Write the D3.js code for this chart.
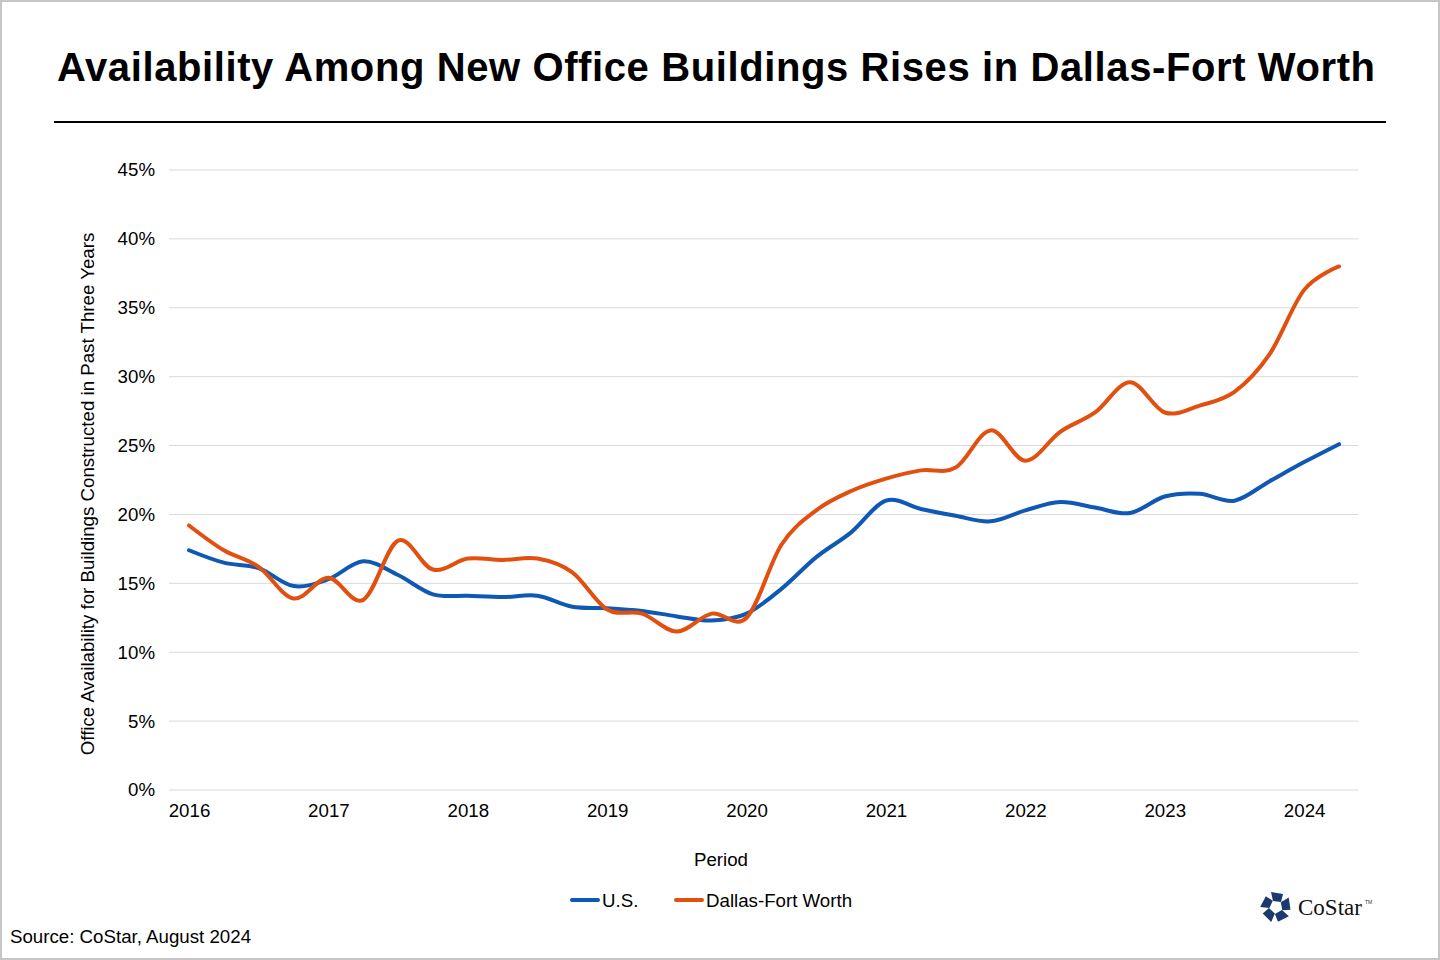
<!DOCTYPE html>
<html>
<head>
<meta charset="utf-8">
<script src="https://cdn.jsdelivr.net/npm/d3@7"></script>
<style>
  html, body { margin: 0; padding: 0; background: #fff; }
  svg { display: block; font-family: Arial, "Liberation Sans", sans-serif; }
</style>
</head>
<body>
<svg id="chart" width="1440" height="960"></svg>
<script>
// quarterly observations, 2016 Q1 .. 2024 Q2
const years = [2016, 2017, 2018, 2019, 2020, 2021, 2022, 2023, 2024]
const quarters = d3.range(34).map(i => 2016 + i / 4)
const usValues = [
  17.4, 16.5, 16.1, 14.8, 15.3, 16.6, 15.6, 14.2,
  14.1, 14.0, 14.1, 13.3, 13.2, 13.0, 12.6, 12.3,
  12.8, 14.6, 16.9, 18.7, 21.0, 20.4, 19.9, 19.5,
  20.3, 20.9, 20.5, 20.1, 21.3, 21.5, 21.0, 22.4,
  23.8, 25.1
]
const dfwValues = [
  19.2, 17.4, 16.2, 13.9, 15.4, 13.8, 18.1, 16.0,
  16.8, 16.7, 16.8, 15.8, 13.1, 12.8, 11.5, 12.8,
  12.5, 17.8, 20.3, 21.7, 22.6, 23.2, 23.4, 26.1,
  23.9, 26.0, 27.4, 29.6, 27.4, 27.9, 28.9, 31.6,
  36.3, 38.0
]
const yTicks = [0, 5, 10, 15, 20, 25, 30, 35, 40, 45]
const seriesNames = ['U.S.', 'Dallas-Fort Worth']
const seriesColors = ['#0f59b4', '#e2500f']

const fs = 18.7
const svg = d3.select('#chart')

// frame
svg.append('rect')
  .attr('x', 1).attr('y', 1).attr('width', 1438).attr('height', 958)
  .attr('fill', '#fff').attr('stroke', '#c6c6c6').attr('stroke-width', 2)

// title + rule
svg.append('text')
  .attr('x', 716).attr('y', 81)
  .attr('text-anchor', 'middle')
  .attr('font-size', 40).attr('font-weight', 'bold')
  .attr('textLength', 1318).attr('lengthAdjust', 'spacing')
  .text('Availability Among New Office Buildings Rises in Dallas-Fort Worth')
svg.append('line')
  .attr('x1', 54).attr('x2', 1386).attr('y1', 122).attr('y2', 122)
  .attr('stroke', '#000').attr('stroke-width', 2)

const x = d3.scaleLinear().domain([2016, 2016 + 33 / 4]).range([189, 1339])
const y = d3.scaleLinear().domain([0, 45]).range([790, 170])

// gridlines
svg.append('g')
  .selectAll('line')
  .data(yTicks)
  .join('line')
  .attr('x1', 169).attr('x2', 1358)
  .attr('y1', d => y(d)).attr('y2', d => y(d))
  .attr('stroke', '#d9d9d9').attr('stroke-width', 1)

// y axis labels
const yAxis = svg.append('g')
  .attr('transform', 'translate(169,0)')
  .call(d3.axisLeft(y).tickValues(yTicks).tickFormat(d => d + '%').tickSize(0).tickPadding(14))
yAxis.select('.domain').remove()
yAxis.selectAll('text').attr('font-size', fs).attr('fill', '#000')
  .attr('font-family', 'Arial, "Liberation Sans", sans-serif')

// x axis labels
const xAxis = svg.append('g')
  .attr('transform', 'translate(0,790)')
  .call(d3.axisBottom(x).tickValues(years).tickFormat(d3.format('d')).tickSize(0).tickPadding(14))
xAxis.select('.domain').remove()
xAxis.selectAll('text').attr('font-size', fs).attr('fill', '#000')
  .attr('font-family', 'Arial, "Liberation Sans", sans-serif')

// axis titles
svg.append('text')
  .attr('x', 721).attr('y', 866)
  .attr('text-anchor', 'middle').attr('font-size', fs)
  .text('Period')
svg.append('text')
  .attr('transform', 'translate(94,494) rotate(-90)')
  .attr('text-anchor', 'middle').attr('font-size', fs)
  .text('Office Availability for Buildings Constructed in Past Three Years')

// lines
const line = d3.line()
  .x((d, i) => x(quarters[i]))
  .y(d => y(d))
  .curve(d3.curveCardinal.tension(0))

svg.append('g')
  .selectAll('path')
  .data([usValues, dfwValues])
  .join('path')
  .attr('d', line)
  .attr('fill', 'none')
  .attr('stroke', (d, i) => seriesColors[i])
  .attr('stroke-width', 4)
  .attr('stroke-linecap', 'round')
  .attr('stroke-linejoin', 'round')

// legend
const legendX = [572, 676]
const legend = svg.append('g')
  .selectAll('g')
  .data(seriesNames)
  .join('g')
  .attr('transform', (d, i) => `translate(${legendX[i]},900)`)
legend.append('line')
  .attr('x1', 0).attr('x2', 26).attr('y1', 0).attr('y2', 0)
  .attr('stroke', (d, i) => seriesColors[i]).attr('stroke-width', 4)
  .attr('stroke-linecap', 'round')
legend.append('text')
  .attr('x', 30).attr('y', 6.5)
  .attr('font-size', fs)
  .text(d => d)

// source
svg.append('text')
  .attr('x', 10).attr('y', 943)
  .attr('font-size', fs)
  .text('Source: CoStar, August 2024')

// CoStar logo: five blocks arranged in a pentagon
const logo = svg.append('g').attr('transform', 'translate(1276,907)')
logo.selectAll('path')
  .data(d3.range(5))
  .join('path')
  .attr('d', 'M-5,-15 L7,-13 L5,-5 L-3,-6 Z')
  .attr('transform', d => `rotate(${d * 72})`)
  .attr('fill', '#1c3a70')
logo.append('text')
  .attr('x', 22).attr('y', 8)
  .attr('font-family', '"Liberation Serif", "DejaVu Serif", serif')
  .attr('font-size', 23).attr('fill', '#111')
  .text('CoStar')
logo.append('text')
  .attr('x', 89).attr('y', -3)
  .attr('font-size', 5).attr('fill', '#333')
  .text('TM')
</script>
</body>
</html>
